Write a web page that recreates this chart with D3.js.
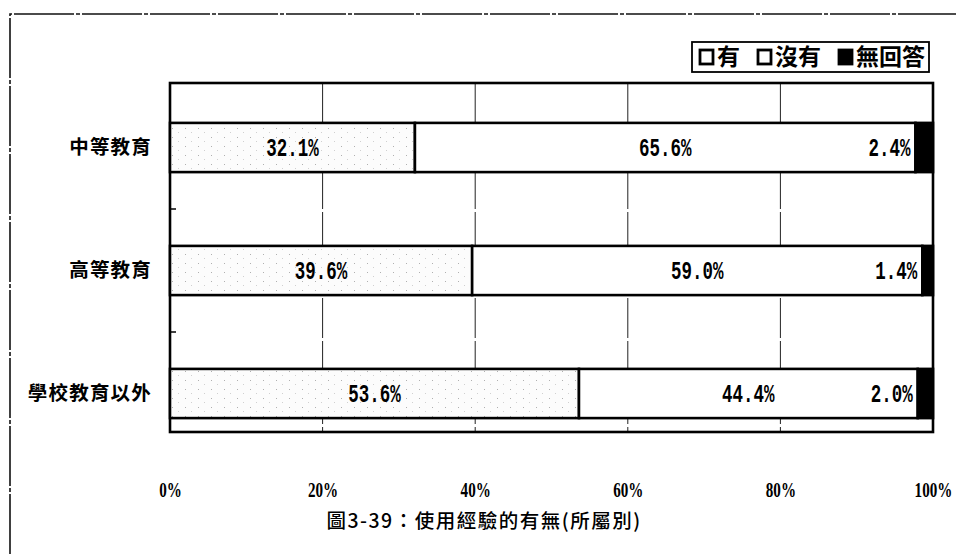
<!DOCTYPE html>
<html>
<head>
<meta charset="utf-8">
<script src="https://cdn.jsdelivr.net/npm/d3@7"></script>
<style>
  html, body { margin: 0; padding: 0; background: #fff; }
  svg { display: block; }
</style>
</head>
<body>
<svg id="chart"></svg>
<script>
var width = 956,
    height = 554
var plot = { left: 170, right: 933, top: 83, bottom: 432 }

// data
var categories = ["中等教育", "高等教育", "學校教育以外"]
var seriesNames = ["有", "沒有", "無回答"]
var yesValues = [32.1, 39.6, 53.6]
var noValues = [65.6, 59.0, 44.4]
var noAnswerValues = [2.4, 1.4, 2.0]
var tickValues = [0, 20, 40, 60, 80, 100]
var titleText = "圖3-39：使用經驗的有無(所屬別)"

var rows = categories.map(function(c, i) {
    return { cat: c, "有": yesValues[i], "沒有": noValues[i], "無回答": noAnswerValues[i] }
})

var svg = d3.select("#chart")
    .attr("width", width)
    .attr("height", height)

// sparse speckled fill for the first series
var defs = svg.append("defs")
var pat = defs.append("pattern")
    .attr("id", "speckle")
    .attr("width", 13).attr("height", 9)
    .attr("patternUnits", "userSpaceOnUse")
pat.append("rect").attr("width", 13).attr("height", 9).attr("fill", "#fcfcfc")
pat.append("rect").attr("x", 3).attr("y", 2).attr("width", 1).attr("height", 1).attr("fill", "#b0b0b0")
pat.append("rect").attr("x", 9).attr("y", 6).attr("width", 1).attr("height", 1).attr("fill", "#d0d0d0")

// outer frame (top + left only)
svg.append("path")
    .attr("d", "M10,554V14H956")
    .attr("fill", "none")
    .attr("stroke", "#111")
    .attr("stroke-width", 1.6)
    .attr("stroke-dasharray", "60,2,4,2")

var x = d3.scaleLinear().domain([0, 100]).range([plot.left, plot.right]).clamp(true)
var y = d3.scaleBand().domain(categories).range([86, 455]).paddingInner(0.6).paddingOuter(0.3)

// vertical gridlines
svg.append("g").selectAll("line")
    .data(tickValues.slice(1, -1))
    .enter().append("line")
    .attr("x1", function(d) { return x(d) })
    .attr("x2", function(d) { return x(d) })
    .attr("y1", plot.top)
    .attr("y2", plot.bottom)
    .attr("stroke", "#222")
    .attr("stroke-width", 1)
    .attr("stroke-dasharray", "40,3")

// plot frame
svg.append("rect")
    .attr("x", plot.left).attr("y", plot.top)
    .attr("width", plot.right - plot.left)
    .attr("height", plot.bottom - plot.top)
    .attr("fill", "none")
    .attr("stroke", "#000")
    .attr("stroke-width", 2.6)

// small ticks between categories on the left axis
var boundaries = categories.slice(0, -1).map(function(c) {
    return y(c) + y.bandwidth() + y.step() * y.paddingInner() / 2
})
svg.append("g").selectAll("line")
    .data(boundaries)
    .enter().append("line")
    .attr("x1", plot.left).attr("x2", plot.left + 6)
    .attr("y1", function(d) { return d }).attr("y2", function(d) { return d })
    .attr("stroke", "#000").attr("stroke-width", 1.5)

var stack = d3.stack().keys(seriesNames)(rows)
var fills = { "有": "url(#speckle)", "沒有": "#fff", "無回答": "#000" }

var layers = svg.append("g").selectAll("g")
    .data(stack)
    .enter().append("g")
    .attr("fill", function(d) { return fills[d.key] })

layers.selectAll("rect")
    .data(function(d) { return d })
    .enter().append("rect")
    .attr("x", function(d) { return x(d[0]) })
    .attr("y", function(d) { return y(d.data.cat) })
    .attr("width", function(d) { return Math.max(0, x(d[1]) - x(d[0])) })
    .attr("height", y.bandwidth())
    .attr("stroke", "#000")
    .attr("stroke-width", 2.6)

// value labels
var labels = []
stack.forEach(function(layer, li) {
    layer.forEach(function(d) {
        var v = d.data[layer.key]
        var lx, anchor
        if (li < 2) { lx = (x(d[0]) + x(d[1])) / 2; anchor = "middle" }
        else { lx = x(d[0]) - 5; anchor = "end" }
        labels.push({ x: lx, y: y(d.data.cat) + y.bandwidth() / 2, anchor: anchor, text: v.toFixed(1) + "%" })
    })
})
svg.append("g").selectAll("text")
    .data(labels)
    .enter().append("text")
    .attr("transform", function(d) { return "translate(" + d.x + "," + (d.y + 8) + ") scale(1,1.45)" })
    .attr("text-anchor", function(d) { return d.anchor })
    .attr("font-family", "'Liberation Mono', 'DejaVu Sans Mono', monospace")
    .attr("font-weight", "bold")
    .attr("font-size", 17.5)
    .attr("fill", "#000")
    .text(function(d) { return d.text })

// category labels
svg.append("g").selectAll("text")
    .data(categories)
    .enter().append("text")
    .attr("x", 152)
    .attr("y", function(d) { return y(d) + y.bandwidth() / 2 })
    .attr("dy", "0.35em")
    .attr("text-anchor", "end")
    .attr("font-family", "'Noto Sans CJK TC', 'Noto Sans CJK SC', sans-serif")
    .attr("font-weight", "bold")
    .attr("font-size", 19.5)
    .attr("letter-spacing", 1.2)
    .text(function(d) { return d })

// x axis labels
var xAxis = svg.append("g")
    .attr("transform", "translate(0," + 490 + ")")
    .call(d3.axisBottom(x).tickValues(tickValues).tickSize(0).tickPadding(0)
        .tickFormat(function(d) { return d + "%" }))
xAxis.select(".domain").remove()
xAxis.selectAll("text")
    .attr("font-family", "'Liberation Serif', serif")
    .attr("font-weight", "bold")
    .attr("font-size", 21)
    .attr("fill", "#000")
    .attr("dy", "0.35em")
    .attr("transform", "scale(0.72,1)")

// title
svg.append("text")
    .attr("x", 484)
    .attr("y", 521)
    .attr("dy", "0.35em")
    .attr("text-anchor", "middle")
    .attr("font-family", "'Noto Sans CJK TC', 'Noto Sans CJK SC', sans-serif")
    .attr("font-weight", "500")
    .attr("font-size", 19.5)
    .attr("letter-spacing", 1.5)
    .text(titleText)

// legend
var legend = svg.append("g").attr("transform", "translate(692,42)")
var legendBox = legend.append("rect")
    .attr("height", 30)
    .attr("fill", "#fff")
    .attr("stroke", "#000")
    .attr("stroke-width", 1.8)
var cursor = 7
seriesNames.forEach(function(name) {
    legend.append("rect")
        .attr("x", cursor + 1).attr("y", 8)
        .attr("width", 13).attr("height", 14)
        .attr("fill", name === "無回答" ? "#000" : "#fff")
        .attr("stroke", "#000").attr("stroke-width", 2.8)
    var t = legend.append("text")
        .attr("x", cursor + 18)
        .attr("y", 15)
        .attr("dy", "0.36em")
        .attr("font-family", "'Noto Sans CJK TC', 'Noto Sans CJK SC', sans-serif")
        .attr("font-weight", "bold")
        .attr("font-size", 23)
        .text(name)
    cursor += 18 + t.node().getComputedTextLength() + 17
})
legendBox.attr("width", cursor - 13)
</script>
</body>
</html>
